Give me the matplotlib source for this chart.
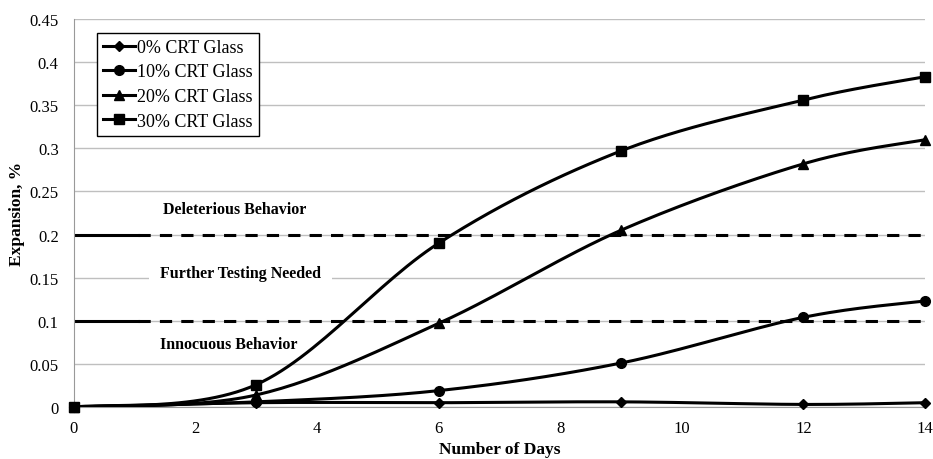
import numpy as np
import matplotlib.pyplot as plt

plt.rcParams['font.family'] = ['Liberation Serif', 'DejaVu Serif']

days = [0, 3, 6, 9, 12, 14]
crt0 = [0, 0.005, 0.005, 0.006, 0.003, 0.005]
crt10 = [0, 0.006, 0.019, 0.051, 0.104, 0.123]
crt20 = [0, 0.014, 0.097, 0.205, 0.282, 0.310]
crt30 = [0, 0.026, 0.190, 0.297, 0.356, 0.383]
labels = ['0% CRT Glass', '10% CRT Glass', '20% CRT Glass', '30% CRT Glass']
markers = ['D', 'o', '^', 's']
msizes = [5, 7, 7, 7]

limits = [0.1, 0.2]
zone_text = ['Innocuous Behavior', 'Further Testing Needed', 'Deleterious Behavior']
zone_x = [1.42, 1.42, 1.46]
zone_y = [0.073, 0.155, 0.230]


def smooth(x, y, n=30):
    # Excel-like smoothed line (Catmull-Rom through the points)
    p = np.column_stack([x, y]).astype(float)
    p = np.vstack([p[0], p, p[-1]])
    out = []
    for i in range(1, len(p) - 2):
        p0, p1, p2, p3 = p[i - 1], p[i], p[i + 1], p[i + 2]
        c1 = p1 + (p2 - p0) / 6
        c2 = p2 - (p3 - p1) / 6
        t = np.linspace(0, 1, n)[:, None]
        seg = (1 - t) ** 3 * p1 + 3 * (1 - t) ** 2 * t * c1 + 3 * (1 - t) * t ** 2 * c2 + t ** 3 * p2
        out.append(seg)
    out = np.vstack(out)
    return out[:, 0], out[:, 1]


fig = plt.figure(figsize=(9.33, 4.6), dpi=100)
ax = fig.add_axes([0.0793, 0.113, 0.912, 0.8435])

ax.set_xlim(0, 14)
ax.set_ylim(0, 0.45)
ax.set_yticks(np.arange(0, 0.451, 0.05))
ax.set_yticklabels(['0', '0.05', '0.1', '0.15', '0.2', '0.25', '0.3', '0.35', '0.4', '0.45'])
ax.set_xticks(range(0, 15, 2))
ax.grid(axis='y', color='#bfbfbf', linewidth=1)
ax.set_axisbelow(True)
for s in ['top', 'right']:
    ax.spines[s].set_visible(False)
for s in ['left', 'bottom']:
    ax.spines[s].set_color('#999999')
ax.tick_params(axis='both', length=0, labelsize=12)
ax.tick_params(axis='y', pad=11)
ax.tick_params(axis='x', pad=9)

for lim in limits:
    ax.plot([0, 1.05], [lim, lim], color='black', lw=2.2, zorder=2)
    ax.plot([1.05, 14], [lim, lim], color='black', lw=2.2, ls=(0, (4, 3)), zorder=2)

for txt, xx, yy in zip(zone_text, zone_x, zone_y):
    t = ax.text(xx, yy, txt, fontsize=11.5, fontweight='bold', ha='left', va='center', zorder=1.5)
    if txt.startswith('Further'):
        t.set_bbox(dict(facecolor='white', edgecolor='none', pad=8))

for vals, lab, m, ms in zip([crt0, crt10, crt20, crt30], labels, markers, msizes):
    sx, sy = smooth(days, vals)
    ax.plot(sx, sy, color='black', lw=2.2, zorder=3)
    ax.plot(days, vals, ls='none', marker=m, ms=ms, color='black', zorder=4, clip_on=False)
    ax.plot([], [], color='black', lw=2.2, marker=m, ms=ms, label=lab)

leg = ax.legend(loc='upper left', bbox_to_anchor=(0.027, 0.965), fontsize=13, frameon=True,
                fancybox=False, edgecolor='black', framealpha=1, handlelength=1.75,
                handletextpad=0.1, borderpad=0.35, labelspacing=0.42, borderaxespad=0)
leg.get_frame().set_linewidth(1)

ax.set_xlabel('Number of Days', fontsize=12.5, fontweight='bold', labelpad=4)
ax.set_ylabel('Expansion, %', fontsize=12.5, fontweight='bold', labelpad=3)

fig.savefig('out.png', dpi=100)
